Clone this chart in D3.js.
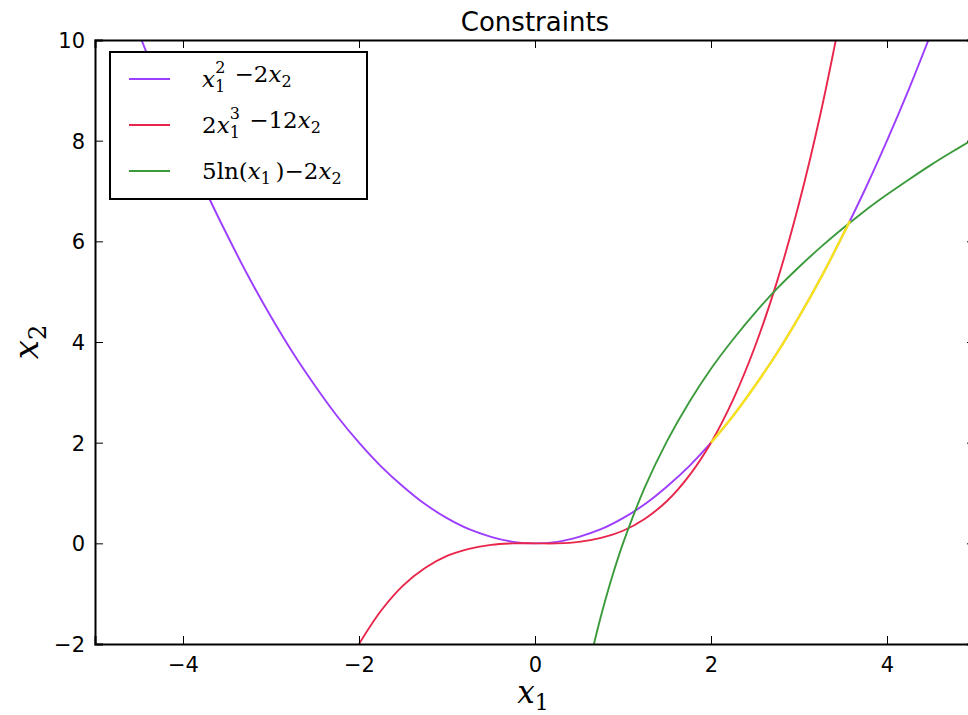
<!DOCTYPE html>
<html>
<head>
<meta charset="utf-8">
<script src="https://cdn.jsdelivr.net/npm/d3@7"></script>
<style>
  body { margin: 0; background: #fff; }
  svg { display: block; }
</style>
</head>
<body>
<svg id="chart"></svg>
<script>
// values
const purpleX = [-4.5, -4.25, -4, -3.75, -3.5, -3.25, -3, -2.75, -2.5, -2.25, -2, -1.75, -1.5, -1.25, -1, -0.75, -0.5, -0.25, 0,
                 0.25, 0.5, 0.75, 1, 1.25, 1.5, 1.75, 2, 2.25, 2.5, 2.75, 3, 3.25, 3.5, 3.75, 4, 4.25, 4.5]
const purpleY = [10.13, 9.03, 8, 7.03, 6.13, 5.28, 4.5, 3.78, 3.13, 2.53, 2, 1.53, 1.13, 0.78, 0.5, 0.28, 0.13, 0.03, 0,
                 0.03, 0.13, 0.28, 0.5, 0.78, 1.13, 1.53, 2, 2.53, 3.13, 3.78, 4.5, 5.28, 6.13, 7.03, 8, 9.03, 10.13]

const redX = [-2, -1.75, -1.5, -1.25, -1, -0.75, -0.5, -0.25, 0, 0.25, 0.5, 0.75, 1, 1.25, 1.5, 1.75, 2, 2.25, 2.5, 2.75, 3, 3.25, 3.5]
const redY = [-2, -1.34, -0.84, -0.49, -0.25, -0.11, -0.03, 0, 0, 0, 0.03, 0.11, 0.25, 0.49, 0.84, 1.34, 2, 2.85, 3.91, 5.2, 6.75, 8.58, 10.72]

const greenX = [0.65, 0.7, 0.8, 0.9, 1, 1.25, 1.5, 1.75, 2, 2.25, 2.5, 2.75, 3, 3.25, 3.5, 3.75, 4, 4.25, 4.5, 4.75, 5]
const greenY = [-2.15, -1.78, -1.12, -0.53, 0, 1.12, 2.03, 2.8, 3.47, 4.05, 4.58, 5.06, 5.49, 5.89, 6.26, 6.61, 6.93, 7.23, 7.52, 7.79, 8.05]

const yellowX = [2, 2.25, 2.5, 2.75, 3, 3.25, 3.5, 3.58]
const yellowY = [2, 2.53, 3.13, 3.78, 4.5, 5.28, 6.13, 6.41]

const xTicks = [-4, -2, 0, 2, 4]
const yTicks = [-2, 0, 2, 4, 6, 8, 10]
const titleText = "Constraints"

const width = 968,
    height = 715
const margin = { left: 95, right: 975, top: 40, bottom: 644 }

const svg = d3.select("#chart")
    .attr("width", width)
    .attr("height", height)

const x = d3.scaleLinear().domain([-5, 5]).range([margin.left, margin.right])
const y = d3.scaleLinear().domain([-2, 10]).range([margin.bottom, margin.top])

svg.append("defs").append("clipPath").attr("id", "plotclip")
    .append("rect")
    .attr("x", margin.left).attr("y", margin.top)
    .attr("width", margin.right - margin.left)
    .attr("height", margin.bottom - margin.top)

const zip = (xs, ys) => xs.map((v, i) => [v, ys[i]])
const line = d3.line()
    .x(d => x(d[0]))
    .y(d => y(d[1]))
    .curve(d3.curveCatmullRom)

const series = [
    { pts: zip(purpleX, purpleY), color: "#9d3dff", w: 1.9 },
    { pts: zip(redX, redY), color: "#e8264b", w: 1.9 },
    { pts: zip(greenX, greenY), color: "#3b9b3b", w: 1.9 },
    { pts: zip(yellowX, yellowY), color: "#f7e41a", w: 2.4 }
]

const plot = svg.append("g").attr("clip-path", "url(#plotclip)")
plot.selectAll("path")
    .data(series)
    .join("path")
    .attr("d", d => line(d.pts))
    .attr("fill", "none")
    .attr("stroke", d => d.color)
    .attr("stroke-width", d => d.w)

// axes, matplotlib classic style: ticks inward on all four sides
const tickFont = "DejaVu Sans, sans-serif"
const fmt = d => d < 0 ? "\u2212" + Math.abs(d) : String(d)

const xBottom = svg.append("g").attr("transform", `translate(0,${margin.bottom})`)
    .call(d3.axisBottom(x).tickValues(xTicks).tickSize(-8).tickPadding(13).tickFormat(fmt))
const xTop = svg.append("g").attr("transform", `translate(0,${margin.top})`)
    .call(d3.axisTop(x).tickValues(xTicks).tickSize(-8).tickFormat(""))
const yLeft = svg.append("g").attr("transform", `translate(${margin.left},0)`)
    .call(d3.axisLeft(y).tickValues(yTicks).tickSize(-8).tickPadding(10).tickFormat(fmt))
const yRight = svg.append("g").attr("transform", `translate(${margin.right},0)`)
    .call(d3.axisRight(y).tickValues(yTicks).tickSize(-8).tickFormat(""))

for (const ax of [xBottom, xTop, yLeft, yRight]) {
    ax.select(".domain").attr("stroke", "#000").attr("stroke-width", 2)
    ax.selectAll(".tick line").attr("stroke", "#000").attr("stroke-width", 1)
    ax.selectAll(".tick text")
        .attr("fill", "#000")
        .style("font-family", tickFont)
        .style("font-size", "21px")
}
yLeft.selectAll(".tick text").attr("dy", "0.36em")

// title
svg.append("text")
    .attr("x", (margin.left + margin.right) / 2)
    .attr("y", 31)
    .attr("text-anchor", "middle")
    .style("font-family", tickFont)
    .style("font-size", "26px")
    .text(titleText)

const mathFont = "DejaVu Serif, serif"

// x1 label
const xl = svg.append("text")
    .attr("x", (margin.left + margin.right) / 2 - 2)
    .attr("y", 703)
    .attr("text-anchor", "middle")
    .style("font-family", mathFont)
    .style("font-size", "31px")
xl.append("tspan").style("font-style", "italic").text("x")
xl.append("tspan").attr("dy", 7).style("font-size", "22px").text("1")

// x2 label
const yl = svg.append("text")
    .attr("transform", `translate(38,${(margin.top + margin.bottom) / 2}) rotate(-90)`)
    .attr("text-anchor", "middle")
    .style("font-family", mathFont)
    .style("font-size", "34px")
yl.append("tspan").style("font-style", "italic").text("x")
yl.append("tspan").attr("dy", 8).style("font-size", "24px").text("2")

// legend
const legend = svg.append("g")
legend.append("rect")
    .attr("x", 110).attr("y", 52)
    .attr("width", 257).attr("height", 147)
    .attr("fill", "#fff")
    .attr("stroke", "#000")
    .attr("stroke-width", 2)

const rows = [
    { color: series[0].color, parts: [["x", "i"], ["1", "sub"], ["2", "sup"], ["\u2009\u2009\u22122", ""], ["x", "i"], ["2", "sub"]] },
    { color: series[1].color, parts: [["2", ""], ["x", "i"], ["1", "sub"], ["3", "sup"], ["\u2009\u2009\u221212", ""], ["x", "i"], ["2", "sub"]] },
    { color: series[2].color, parts: [["5ln(", ""], ["x", "i"], ["1", "sub"], ["\u2009)\u22122", ""], ["x", "i"], ["2", "sub"]] }
]

rows.forEach((r, i) => {
    const cy = 79 + i * 46
    legend.append("line")
        .attr("x1", 129).attr("x2", 170)
        .attr("y1", cy).attr("y2", cy)
        .attr("stroke", r.color)
        .attr("stroke-width", 1.9)
    const t = legend.append("text")
        .attr("x", 202).attr("y", cy + 8)
        .style("font-family", mathFont)
        .style("font-size", "23px")
        .attr("fill", "#000")
    let shift = 0
    r.parts.forEach(([s, k]) => {
        const sp = t.append("tspan").text(s)
        if (k === "i") sp.style("font-style", "italic")
        if (k === "sub") {
            sp.style("font-size", "16px").attr("dy", 5 - shift)
            shift = 5
        } else if (k === "sup") {
            sp.style("font-size", "16px").attr("dx", -10).attr("dy", -14 - shift)
            shift = -9
        } else {
            sp.attr("dy", -shift)
            shift = 0
        }
    })
})
</script>
</body>
</html>
